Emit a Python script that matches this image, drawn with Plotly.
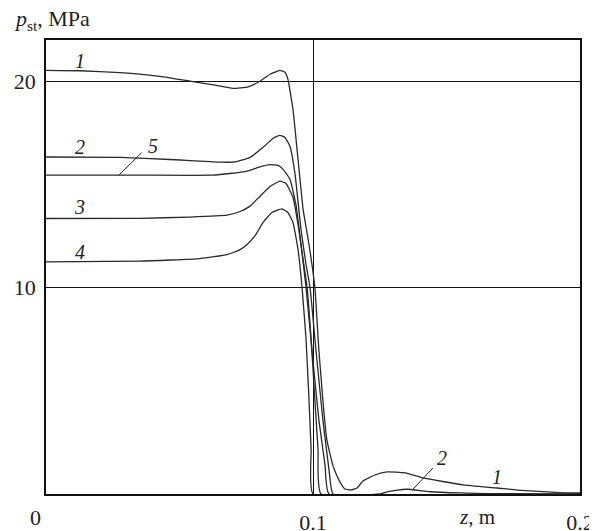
import plotly.graph_objects as go

# Data (z in m, p_st in MPa)
z1 = [0, 0.0127, 0.0277, 0.0427, 0.0539, 0.0633, 0.0700, 0.0757, 0.0801, 0.0839, 0.0876, 0.0895,
      0.0906, 0.0925, 0.0944, 0.0963, 0.0985, 0.1007, 0.1022, 0.1052, 0.1075, 0.1090, 0.1105,
      0.1120, 0.1142, 0.1165, 0.1187, 0.1232, 0.1277, 0.1345, 0.1412, 0.1562, 0.1689, 0.1764,
      0.1925, 0.2]
p1 = [20.53, 20.51, 20.42, 20.24, 20.01, 19.81, 19.66, 19.73, 20.0, 20.34, 20.53, 20.44,
      20.1, 18.64, 16.21, 13.79, 12.09, 10.0, 6.99, 2.62, 1.36, 0.87, 0.49,
      0.24, 0.19, 0.29, 0.63, 0.92, 1.07, 1.02, 0.78, 0.44, 0.29, 0.19,
      0.07, 0.05]

z2 = [0, 0.0277, 0.0464, 0.0652, 0.0708, 0.0764, 0.0813, 0.0850, 0.0876, 0.0895, 0.0914,
      0.0933, 0.0955, 0.0974, 0.0989, 0.1011, 0.1037, 0.1060, 0.1075, 0.1251, 0.1281,
      0.1315, 0.1352, 0.1438, 0.1551, 0.1663, 0.2]
p2 = [16.33, 16.31, 16.21, 16.08, 16.09, 16.31, 16.80, 17.23, 17.38, 17.28, 16.84,
      15.48, 12.82, 11.12, 10.0, 6.99, 3.59, 1.17, 0, 0, 0.11,
      0.19, 0.23, 0.11, 0.05, 0.02, 0.01]

z3 = [0, 0.0352, 0.0539, 0.0678, 0.0727, 0.0764, 0.0801, 0.0839, 0.0876, 0.0899, 0.0925,
      0.0944, 0.0963, 0.0978, 0.0993, 0.1007, 0.1019, 0.1030, 0.2]
p3 = [13.35, 13.36, 13.42, 13.51, 13.69, 13.95, 14.42, 14.90, 15.16, 15.05, 14.37,
      13.06, 11.36, 10.0, 7.48, 4.56, 2.14, 0, 0]

z4 = [0, 0.0352, 0.0577, 0.0678, 0.0727, 0.0753, 0.0783, 0.0813, 0.0846, 0.0884, 0.0906,
      0.0925, 0.0944, 0.0959, 0.0974, 0.0985, 0.0993, 0.1000, 0.2]
p4 = [11.25, 11.28, 11.41, 11.60, 11.84, 12.09, 12.52, 13.16, 13.64, 13.82, 13.64,
      13.16, 11.84, 10.0, 7.48, 4.56, 2.14, 0, 0]

z5 = [0, 0.0352, 0.0625, 0.0689, 0.0753, 0.0801, 0.0839, 0.0869, 0.0888, 0.0914, 0.0936,
      0.0955, 0.0974, 0.0996, 0.1022, 0.1045, 0.1060, 0.2]
p5 = [15.45, 15.45, 15.45, 15.53, 15.65, 15.85, 15.96, 15.92, 15.73, 15.24, 14.03,
      12.09, 10.0, 6.99, 3.59, 1.41, 0, 0]

x_ticks = [0.1, 0.2]
x_ticklabels = ["0.1", "0.2"]
y_ticks = [10, 20]
y_ticklabels = ["10", "20"]

SERIF = "Liberation Serif, Times New Roman, DejaVu Serif, serif"
LINE = "#2a2a2a"
TXT = "#222"

fig = go.Figure()
for zz, pp in [(z1, p1), (z2, p2), (z5, p5), (z3, p3), (z4, p4)]:
    fig.add_trace(go.Scatter(x=zz, y=pp, mode="lines",
                             line=dict(color=LINE, width=1.3, shape="spline", smoothing=0.4),
                             showlegend=False, hoverinfo="skip"))

# the page keeps its default 8px body margin, so the figure is offset by 8px
fig.update_layout(
    template="none",
    width=589, height=523,
    margin=dict(l=38, r=17, t=32, b=37, autoexpand=False),
    paper_bgcolor="white", plot_bgcolor="white",
    font=dict(family=SERIF, size=22, color=TXT),
    showlegend=False,
)
fig.update_xaxes(range=[0, 0.2], tickvals=x_ticks, ticktext=x_ticklabels, automargin=False,
                 showgrid=True, gridcolor="#111", gridwidth=1.2,
                 showline=True, linecolor="#111", linewidth=1.5, mirror=True,
                 ticks="", zeroline=False, ticklabelstandoff=8,
                 tickfont=dict(family=SERIF, size=22, color=TXT))
fig.update_yaxes(range=[0, 22], tickvals=y_ticks, ticktext=y_ticklabels, automargin=False,
                 showgrid=True, gridcolor="#111", gridwidth=1.2,
                 showline=True, linecolor="#111", linewidth=1.5, mirror=True,
                 ticks="", zeroline=False, ticklabelstandoff=4,
                 tickfont=dict(family=SERIF, size=22, color=TXT))

annots = [
    dict(text="0", x=0, y=0, xshift=-11, yshift=-23, size=22, italic=False),
    dict(text="<i>z</i>, m", x=0.1615, y=0, xshift=0, yshift=-23, size=21, italic=False),
    dict(text="1", x=0.0127, y=20.97, size=20, italic=True),
    dict(text="2", x=0.0127, y=16.80, size=20, italic=True),
    dict(text="5", x=0.0401, y=16.84, size=20, italic=True),
    dict(text="3", x=0.0127, y=13.93, size=20, italic=True),
    dict(text="4", x=0.0127, y=11.75, size=20, italic=True),
    dict(text="2", x=0.1483, y=1.75, size=20, italic=True),
    dict(text="1", x=0.1689, y=0.83, size=20, italic=True),
]
for a in annots:
    t = "<i>%s</i>" % a["text"] if a["italic"] else a["text"]
    fig.add_annotation(x=a["x"], y=a["y"], xref="x", yref="y", text=t, showarrow=False,
                       xshift=a.get("xshift", 0), yshift=a.get("yshift", 0),
                       font=dict(family=SERIF, size=a["size"], color=TXT))

fig.add_annotation(xref="paper", yref="paper", x=-0.064, y=1.044,
                   xanchor="left", yanchor="middle",
                   text="<i>p</i><sub>st</sub>, MPa", showarrow=False,
                   font=dict(family=SERIF, size=22, color=TXT))

# leader lines
fig.add_shape(type="line", xref="x", yref="y", x0=0.0273, y0=15.45, x1=0.0358, y1=16.54,
              line=dict(color=TXT, width=1))
fig.add_shape(type="line", xref="x", yref="y", x0=0.1375, y0=0.24, x1=0.1449, y1=1.26,
              line=dict(color=TXT, width=1))

fig.write_html("out.html", config=dict(displayModeBar=False))
